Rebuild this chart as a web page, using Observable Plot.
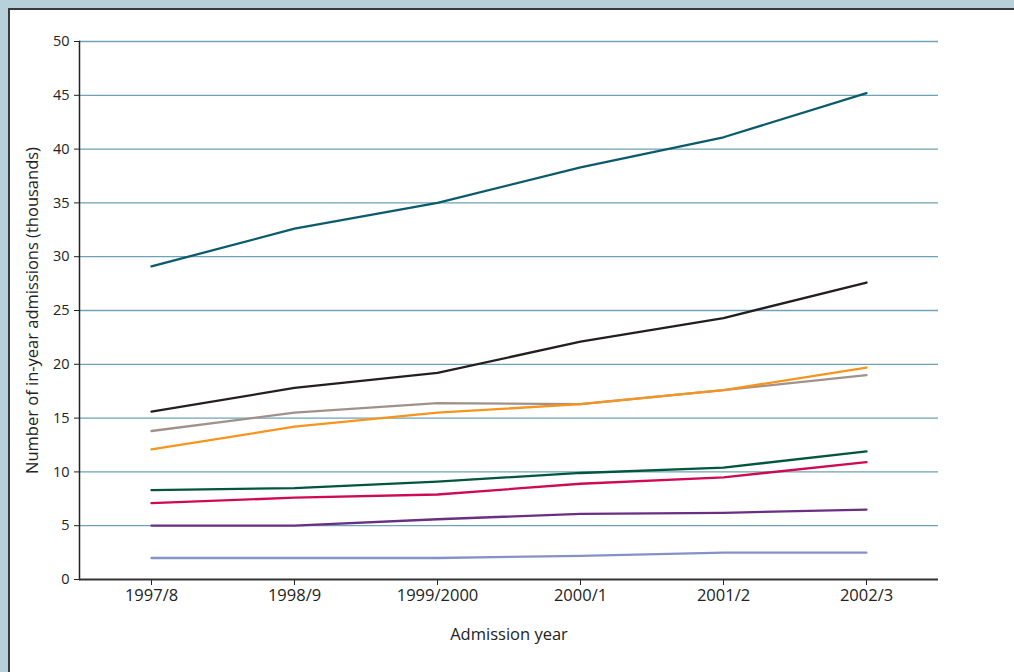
<!DOCTYPE html>
<html>
<head>
<meta charset="utf-8">
<script src="https://cdn.jsdelivr.net/npm/d3@7"></script>
<script src="https://cdn.jsdelivr.net/npm/@observablehq/plot@0.6"></script>
<style>
  html, body { margin: 0; padding: 0; }
  body { width: 1014px; height: 672px; background: #b8d0da; position: relative; overflow: hidden; font-family: "Open Sans", sans-serif; }
  #panel { position: absolute; left: 8px; top: 8px; width: 1100px; height: 700px; background: #fff; border-left: 2px solid #3a3a3a; border-top: 2px solid #3a3a3a; }
  #chart { position: absolute; left: 0; top: 0; }
</style>
</head>
<body>
<div id="panel"></div>
<div id="chart"></div>
<script>
const years = ["1997/8", "1998/9", "1999/2000", "2000/1", "2001/2", "2002/3"];
const yTicks = [0, 5, 10, 15, 20, 25, 30, 35, 40, 45, 50];

const seriesA = [29.1, 32.6, 35.0, 38.3, 41.1, 45.2];
const seriesB = [15.6, 17.8, 19.2, 22.1, 24.3, 27.6];
const seriesC = [13.8, 15.5, 16.4, 16.3, 17.6, 19.0];
const seriesD = [12.1, 14.2, 15.5, 16.3, 17.6, 19.7];
const seriesE = [8.3, 8.5, 9.1, 9.9, 10.4, 11.9];
const seriesF = [7.1, 7.6, 7.9, 8.9, 9.5, 10.9];
const seriesG = [5.0, 5.0, 5.6, 6.1, 6.2, 6.5];
const seriesH = [2.0, 2.0, 2.0, 2.2, 2.5, 2.5];

const seriesList = [
  {name: "A", values: seriesA, color: "#0b5b6d"},
  {name: "B", values: seriesB, color: "#231f20"},
  {name: "C", values: seriesC, color: "#a0928b"},
  {name: "D", values: seriesD, color: "#f7941d"},
  {name: "E", values: seriesE, color: "#00563e"},
  {name: "F", values: seriesF, color: "#cf0a55"},
  {name: "G", values: seriesG, color: "#6a2e82"},
  {name: "H", values: seriesH, color: "#8592c9"}
];

const rows = seriesList.flatMap(s => s.values.map((v, i) => ({series: s.name, year: years[i], value: v})));

const chart = Plot.plot({
  width: 1014,
  height: 672,
  marginLeft: 79,
  marginRight: 76,
  marginTop: 41,
  marginBottom: 93,
  style: {fontFamily: "'Open Sans', sans-serif", fontSize: "17px", color: "#222", background: "transparent"},
  x: {type: "point", domain: years, padding: 0.5},
  y: {domain: [0, 50]},
  color: {domain: seriesList.map(s => s.name), range: seriesList.map(s => s.color)},
  marks: [
    Plot.ruleY(yTicks.filter(d => d > 0), {stroke: "#6fa2b6", strokeWidth: 1.3}),
    Plot.axisY(yTicks, {tickSize: 5, tickPadding: 5, stroke: "#222", fill: "#222", fontSize: 14.5, label: null}),
    Plot.axisY([], {tickSize: 0, fill: "#222", fontSize: 16.5, label: "Number of in-year admissions (thousands)", labelAnchor: "center", labelArrow: "none", labelOffset: 53}),
    Plot.axisX(years, {tickSize: 6, tickPadding: 4, stroke: "#222", fill: "#222", fontSize: 16.5, label: "Admission year", labelAnchor: "center", labelArrow: "none", labelOffset: 60}),
    Plot.frame({anchor: "left", stroke: "#222", strokeWidth: 1.5}),
    Plot.ruleY([0], {stroke: "#333", strokeWidth: 2.2}),
    Plot.line(rows, {x: "year", y: "value", z: "series", stroke: "series", strokeWidth: 2.3, curve: "linear", strokeLinejoin: "round"})
  ]
});
document.getElementById("chart").appendChild(chart);
</script>
</body>
</html>
